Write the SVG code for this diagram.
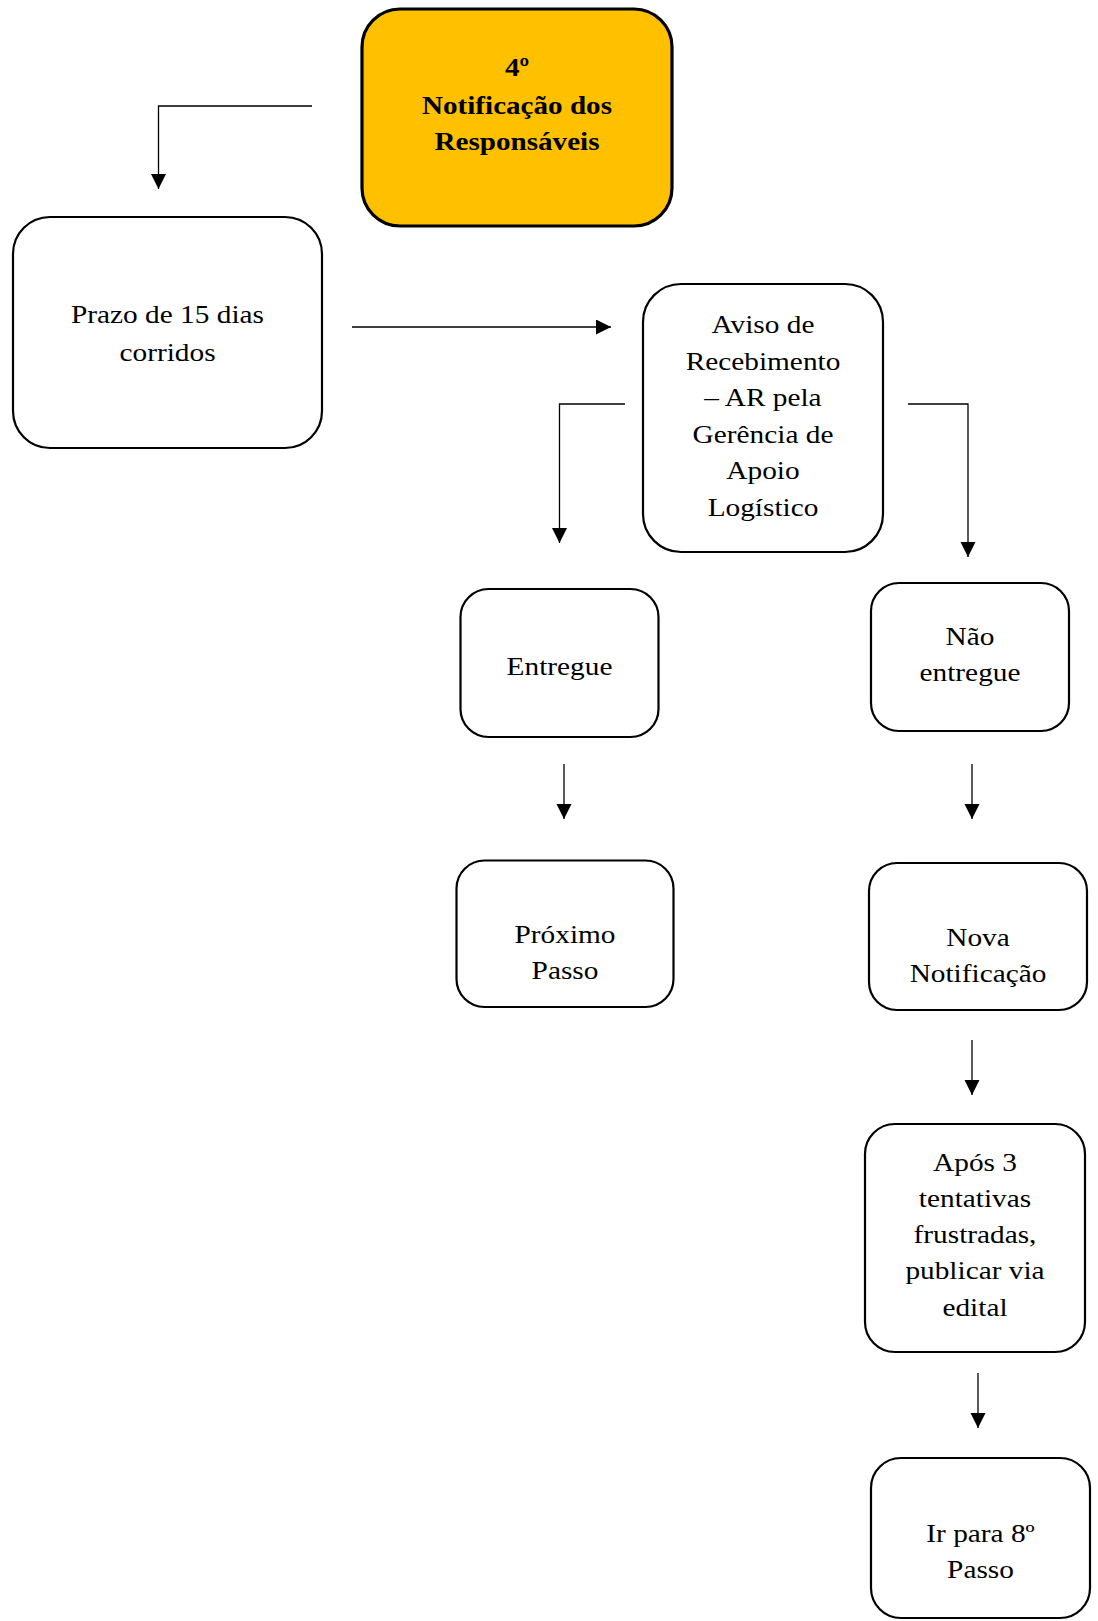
<svg xmlns="http://www.w3.org/2000/svg" width="1098" height="1621" viewBox="0 0 1098 1621">
<defs>
<style>
.box{fill:#fff;stroke:#000;stroke-width:2.2}
.hl{fill:#FFC000;stroke:#000;stroke-width:3.2}
.t{font-family:"Liberation Serif","Times New Roman",serif;font-size:25.5px;fill:#000;text-anchor:middle}
.b{font-weight:bold;font-size:26px}
.c{fill:none;stroke:#000;stroke-width:1.3}
</style>
<marker id="ah" markerUnits="userSpaceOnUse" markerWidth="16" markerHeight="16" refX="15" refY="7.5" orient="auto">
<path d="M0,0 L15,7.5 L0,15 z" fill="#000"/>
</marker>
</defs>
<rect width="1098" height="1621" fill="#fff"/>
<g id="connectors">
<polyline class="c" points="312,106 158.5,106 158.5,189" marker-end="url(#ah)"/>
<line class="c" x1="352" y1="327" x2="611" y2="327" marker-end="url(#ah)"/>
<polyline class="c" points="625,404 559.5,404 559.5,543" marker-end="url(#ah)"/>
<polyline class="c" points="908,404 968,404 968,557" marker-end="url(#ah)"/>
<line class="c" x1="564" y1="764" x2="564" y2="819" marker-end="url(#ah)"/>
<line class="c" x1="972" y1="764" x2="972" y2="819" marker-end="url(#ah)"/>
<line class="c" x1="972" y1="1040" x2="972" y2="1095" marker-end="url(#ah)"/>
<line class="c" x1="978" y1="1373" x2="978" y2="1428" marker-end="url(#ah)"/>
</g>
<g id="n-notificacao">
<rect class="hl" x="362" y="9" width="310" height="217" rx="38"/>
<g transform="matrix(1.12 0 0 1 517 0)">
<text class="t b" x="0" y="76">4º</text>
<text class="t b" x="0" y="114.5">Notificação dos</text>
<text class="t b" x="0" y="150.5">Responsáveis</text>
</g>
</g>
<g id="n-prazo">
<rect class="box" x="13" y="217" width="309" height="231" rx="37"/>
<g transform="matrix(1.15 0 0 1 167.5 0)">
<text class="t" x="0" y="323">Prazo de 15 dias</text>
<text class="t" x="0" y="361">corridos</text>
</g>
</g>
<g id="n-aviso">
<rect class="box" x="643" y="284" width="240" height="268" rx="38"/>
<g transform="matrix(1.15 0 0 1 763 0)">
<text class="t" x="0" y="333.5">Aviso de</text>
<text class="t" x="0" y="370">Recebimento</text>
<text class="t" x="0" y="406.5">– AR pela</text>
<text class="t" x="0" y="443">Gerência de</text>
<text class="t" x="0" y="479.5">Apoio</text>
<text class="t" x="0" y="516">Logístico</text>
</g>
</g>
<g id="n-entregue">
<rect class="box" x="460.5" y="589" width="198" height="148" rx="28"/>
<g transform="matrix(1.15 0 0 1 559.5 0)">
<text class="t" x="0" y="675">Entregue</text>
</g>
</g>
<g id="n-nao-entregue">
<rect class="box" x="871" y="583" width="198" height="148" rx="28"/>
<g transform="matrix(1.15 0 0 1 970 0)">
<text class="t" x="0" y="645">Não</text>
<text class="t" x="0" y="681">entregue</text>
</g>
</g>
<g id="n-proximo">
<rect class="box" x="456.5" y="860.5" width="217" height="146.5" rx="28"/>
<g transform="matrix(1.15 0 0 1 565 0)">
<text class="t" x="0" y="943">Próximo</text>
<text class="t" x="0" y="979">Passo</text>
</g>
</g>
<g id="n-nova">
<rect class="box" x="869" y="863" width="218" height="147" rx="28"/>
<g transform="matrix(1.15 0 0 1 978 0)">
<text class="t" x="0" y="946">Nova</text>
<text class="t" x="0" y="982">Notificação</text>
</g>
</g>
<g id="n-apos">
<rect class="box" x="865" y="1124" width="220" height="228" rx="30"/>
<g transform="matrix(1.15 0 0 1 975 0)">
<text class="t" x="0" y="1171.5">Após 3</text>
<text class="t" x="0" y="1207.5">tentativas</text>
<text class="t" x="0" y="1243.5">frustradas,</text>
<text class="t" x="0" y="1279.5">publicar via</text>
<text class="t" x="0" y="1316">edital</text>
</g>
</g>
<g id="n-ir">
<rect class="box" x="871" y="1458" width="219" height="160" rx="30"/>
<g transform="matrix(1.15 0 0 1 980.5 0)">
<text class="t" x="0" y="1541.5">Ir para 8º</text>
<text class="t" x="0" y="1578">Passo</text>
</g>
</g>
</svg>
